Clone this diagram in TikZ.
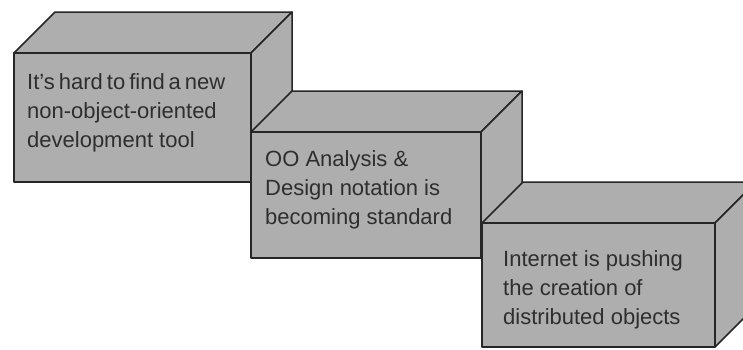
\documentclass[tikz,border=0pt]{standalone}
\usepackage{fontspec}
\setmainfont{Liberation Sans}
\definecolor{boxgray}{HTML}{AEAEAE}
\definecolor{inkgray}{HTML}{2E2E2E}

\tikzset{
  face/.style={fill=boxgray, draw=black!85, line width=1.5pt, line join=round},
  boxtext/.style={anchor=north west, inner sep=0pt, align=left, text=inkgray,
    font=\fontsize{22}{29}\selectfont},
}

% a solid block: front corner (#1,#2), width #3, height #4
\newcommand{\solidblock}[4]{%
  \filldraw[face] (#1,#2) -- ++(41,-41) -- ++(#3,0) -- ++(-41,41) -- cycle;
  \filldraw[face] (#1+#3,#2) -- ++(41,-41) -- ++(0,#4) -- ++(-41,41) -- cycle;
  \filldraw[face] (#1,#2) rectangle ++(#3,#4);
}

\begin{document}
\begin{tikzpicture}[x=1pt,y=-1pt]
        \useasboundingbox (0,0) rectangle (743,349);
        \clip (0,0) rectangle (743,349);

        \solidblock{14}{53}{237}{129}
        \node[boxtext] (tool) at (27,73) {{\spaceskip=4pt plus 1pt\relax It’s hard to find a new}\\non-object-oriented\\development tool};

        \solidblock{251}{132}{230}{126}
        \node[boxtext] (notation) at (265,150) {OO Analysis \&\\Design notation is\\becoming standard};

        \solidblock{482}{223}{233}{124}
        \node[boxtext] (internet) at (503,250) {Internet is pushing\\the creation of\\distributed objects};
    \end{tikzpicture}
\end{document}
